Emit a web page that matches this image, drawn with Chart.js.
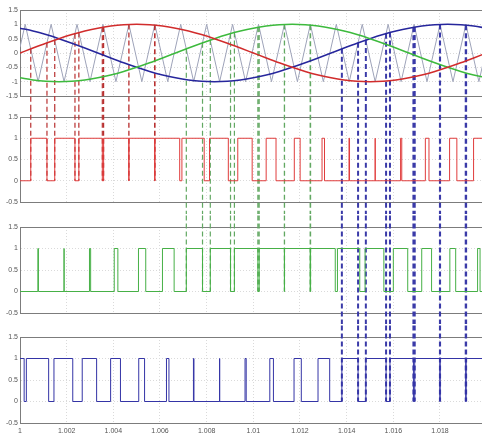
<!DOCTYPE html>
<html>
<head>
<meta charset="utf-8">
<script src="https://cdn.jsdelivr.net/npm/chart.js@4.4.1/dist/chart.umd.min.js"></script>
<style>
  html, body { margin: 0; padding: 0; background: #fff; }
  #wrap { position: relative; width: 482px; height: 434px; overflow: hidden; }
  canvas { position: absolute; left: 0; }
</style>
</head>
<body>
<div id="wrap">
  <canvas id="wave" width="482" height="107" style="top:0px"></canvas>
  <canvas id="pulseR" width="482" height="107" style="top:107px"></canvas>
  <canvas id="pulseG" width="482" height="110" style="top:214px"></canvas>
  <canvas id="pulseB" width="482" height="110" style="top:324px"></canvas>
</div>
<script>
// time axis (s)
const xMin = 1, xMax = 1.0198;
const xTicks = [1, 1.002, 1.004, 1.006, 1.008, 1.01, 1.012, 1.014, 1.016, 1.018];
const waveTicks = [-1.5, -1, -0.5, 0, 0.5, 1, 1.5];
const pulseTicks = [-0.5, 0, 0.5, 1, 1.5];

// reference sine waves
const sineT = [1, 1.000556, 1.001111, 1.001667, 1.002222, 1.002778, 1.003333, 1.003889, 1.004444, 1.005,
  1.005556, 1.006111, 1.006667, 1.007222, 1.007778, 1.008333, 1.008889, 1.009444, 1.01, 1.010556,
  1.011111, 1.011667, 1.012222, 1.012778, 1.013333, 1.013889, 1.014444, 1.015, 1.015556, 1.016111,
  1.016667, 1.017222, 1.017778, 1.018333, 1.018889, 1.019444, 1.02];
const redWave = [0, 0.174, 0.342, 0.5, 0.643, 0.766, 0.866, 0.94, 0.985, 1,
  0.985, 0.94, 0.866, 0.766, 0.643, 0.5, 0.342, 0.174, 0, -0.174,
  -0.342, -0.5, -0.643, -0.766, -0.866, -0.94, -0.985, -1, -0.985, -0.94,
  -0.866, -0.766, -0.643, -0.5, -0.342, -0.174, 0];
const greenWave = [-0.866, -0.94, -0.985, -1, -0.985, -0.94, -0.866, -0.766, -0.643, -0.5,
  -0.342, -0.174, 0, 0.174, 0.342, 0.5, 0.643, 0.766, 0.866, 0.94,
  0.985, 1, 0.985, 0.94, 0.866, 0.766, 0.643, 0.5, 0.342, 0.174,
  0, -0.174, -0.342, -0.5, -0.643, -0.766, -0.866];
const blueWave = [0.866, 0.766, 0.643, 0.5, 0.342, 0.174, 0, -0.174, -0.342, -0.5,
  -0.643, -0.766, -0.866, -0.94, -0.985, -1, -0.985, -0.94, -0.866, -0.766,
  -0.643, -0.5, -0.342, -0.174, 0, 0.174, 0.342, 0.5, 0.643, 0.766,
  0.866, 0.94, 0.985, 1, 0.985, 0.94, 0.866];

// triangular carrier (vertices)
const carrierT = [1, 1.000222, 1.000778, 1.001333, 1.001889, 1.002444, 1.003, 1.003556, 1.004111, 1.004667,
  1.005222, 1.005778, 1.006333, 1.006889, 1.007444, 1.008, 1.008556, 1.009111, 1.009667, 1.010222,
  1.010778, 1.011333, 1.011889, 1.012444, 1.013, 1.013556, 1.014111, 1.014667, 1.015222, 1.015778,
  1.016333, 1.016889, 1.017444, 1.018, 1.018556, 1.019111, 1.019667, 1.02];
const carrierV = [0.2, 1, -1, 1, -1, 1, -1, 1, -1, 1,
  -1, 1, -1, 1, -1, 1, -1, 1, -1, 1,
  -1, 1, -1, 1, -1, 1, -1, 1, -1, 1,
  -1, 1, -1, 1, -1, 1, -1, 0.2];

// switching instants of each PWM output
const redStart = 0;
const redEdges = [1.000461, 1.0011556, 1.0014889, 1.0023556, 1.0025222, 1.0035278, 1.0035833, 1.0046639, 1.0046694,
  1.0057694, 1.0057861, 1.0068444, 1.0069389, 1.0078944, 1.0081222, 1.0089278, 1.0093333, 1.00995, 1.01055,
  1.0109722, 1.0117556, 1.0120056, 1.0129444, 1.01305, 1.0141, 1.0141222, 1.0152217, 1.0152228, 1.0163111,
  1.0163611, 1.0173722, 1.0175278, 1.0184111, 1.0187222, 1.0194389, 1.0199389];
const greenStart = 0;
const greenEdges = [1.0007667, 1.0007889, 1.0018883, 1.0018894, 1.0029778, 1.0030278, 1.0040389, 1.0041944,
  1.0050778, 1.0053889, 1.0061056, 1.0066056, 1.0071278, 1.0078222, 1.0081556, 1.0090222, 1.0091889,
  1.0101944, 1.01025, 1.0113306, 1.0113361, 1.0124361, 1.0124528, 1.0135111, 1.0136056, 1.0145611,
  1.0147889, 1.0155944, 1.016, 1.0166167, 1.0172167, 1.0176389, 1.0184222, 1.0186722, 1.0196111, 1.0197167];
const blueStart = 1;
const blueEdges = [1.0001778, 1.0002722, 1.0012278, 1.0014556, 1.0022611, 1.0026667, 1.0032833, 1.0038833,
  1.0043056, 1.0050889, 1.0053389, 1.0062778, 1.0063833, 1.0074333, 1.0074556, 1.008555, 1.0085561,
  1.0096444, 1.0096944, 1.0107056, 1.0108611, 1.0117444, 1.0120556, 1.0127722, 1.0132722, 1.0137944,
  1.0144889, 1.0148222, 1.0156889, 1.0158556, 1.0168611, 1.0169167, 1.0179972, 1.0180028, 1.0191028, 1.0191194];

// dashed projection lines: crossing instant and sine value there
const redMarkT = [1.000461, 1.0011556, 1.0014889, 1.0023556, 1.0025222, 1.0035278, 1.0035833, 1.0046639, 1.0046694, 1.0057694, 1.0057861];
const greenMarkT = [1.0071278, 1.0078222, 1.0081556, 1.0090222, 1.0091889, 1.0101944, 1.01025, 1.0113306, 1.0113361, 1.0124361, 1.0124528];
const blueMarkT = [1.0137944, 1.0144889, 1.0148222, 1.0156889, 1.0158556, 1.0168611, 1.0169167, 1.0179972, 1.0180028, 1.0191028, 1.0191194];
const markV = [0.144, 0.355, 0.451, 0.674, 0.712, 0.895, 0.903, 0.994, 0.995, 0.971, 0.970];

const RED = '#d12c2c', GREEN = '#3dba3d', BLUE = '#26269c';
const RED_DASH = '#b83030', GREEN_DASH = '#62a862', BLUE_DASH = '#3a3aa8';

Chart.defaults.font.family = "'Liberation Sans', Arial, sans-serif";
Chart.defaults.font.size = 7;
Chart.defaults.color = '#555';

function pairs(xs, ys) {
  return xs.map((x, i) => ({ x: x, y: ys[i] }));
}

function steps(edges, start) {
  const pts = [{ x: xMin, y: start }];
  let lvl = start;
  edges.forEach(t => { lvl = 1 - lvl; pts.push({ x: t, y: lvl }); });
  pts.push({ x: 1.02, y: lvl });
  return pts;
}

// vertical drops; values far outside the axis run off the canvas edge
function drops(times, from, to) {
  const pts = [];
  times.forEach((t, i) => {
    const top = Array.isArray(from) ? from[i] : from;
    pts.push({ x: t, y: top }, { x: t, y: to }, { x: t, y: null });
  });
  return pts;
}

function dashSet(times, from, to, color, width) {
  return {
    data: drops(times, from, to), borderColor: color, borderWidth: width,
    borderDash: [5, 3], clip: false, spanGaps: false, order: 1
  };
}

function panel(id, yMin, yMax, yTicks, datasets, padding, showX) {
  new Chart(document.getElementById(id), {
    type: 'line',
    data: { datasets: datasets },
    options: {
      responsive: false,
      animation: false,
      events: [],
      layout: { padding: padding },
      plugins: { legend: { display: false }, tooltip: { enabled: false } },
      elements: { point: { radius: 0 }, line: { borderWidth: 1, tension: 0 } },
      scales: {
        x: {
          type: 'linear', min: xMin, max: xMax,
          afterBuildTicks: s => { s.ticks = xTicks.map(v => ({ value: v })); },
          afterFit: s => { s.height = showX ? 11 : 0; },
          ticks: { display: showX, maxRotation: 0, padding: 4, callback: v => String(+v.toFixed(3)) },
          grid: { color: '#dadada', drawTicks: false },
          border: { color: '#7c7c7c', dash: [1, 2] }
        },
        x2: {
          type: 'linear', position: 'top', min: xMin, max: xMax,
          afterFit: s => { s.height = 0; },
          ticks: { display: false },
          grid: { drawOnChartArea: false, drawTicks: false },
          border: { color: '#7c7c7c' }
        },
        y: {
          min: yMin, max: yMax,
          afterBuildTicks: s => { s.ticks = yTicks.map(v => ({ value: v })); },
          afterFit: s => { s.width = 20; },
          ticks: { padding: 2, callback: v => String(v) },
          grid: { color: '#dadada', drawTicks: false },
          border: { color: '#7c7c7c', dash: [1, 2] }
        }
      }
    }
  });
}

// top: modulating waves and carrier
panel('wave', -1.5, 1.5, waveTicks, [
  { data: pairs(sineT, redWave), borderColor: RED, borderWidth: 1.5, cubicInterpolationMode: 'monotone', order: 0 },
  { data: pairs(sineT, greenWave), borderColor: GREEN, borderWidth: 1.5, cubicInterpolationMode: 'monotone', order: 0 },
  { data: pairs(sineT, blueWave), borderColor: BLUE, borderWidth: 1.5, cubicInterpolationMode: 'monotone', order: 0 },
  dashSet(redMarkT, markV, -20, RED_DASH, 1.2),
  dashSet(greenMarkT, markV, -20, GREEN_DASH, 1.2),
  dashSet(blueMarkT, markV, -20, BLUE_DASH, 2),
  { data: pairs(carrierT, carrierV), borderColor: '#9ea3b9', borderWidth: 1, order: 2 }
], { top: 10, bottom: 11, left: 0, right: 0 }, false);

// phase outputs
panel('pulseR', -0.5, 1.5, pulseTicks, [
  { data: steps(redEdges, redStart), borderColor: '#e03c3c', stepped: 'before', order: 0 },
  dashSet(redMarkT, 20, 0, RED_DASH, 1.2),
  dashSet(greenMarkT, 20, -20, GREEN_DASH, 1.2),
  dashSet(blueMarkT, 20, -20, BLUE_DASH, 2)
], { top: 10, bottom: 12, left: 0, right: 0 }, false);

panel('pulseG', -0.5, 1.5, pulseTicks, [
  { data: steps(greenEdges, greenStart), borderColor: '#46b046', stepped: 'before', order: 0 },
  dashSet(greenMarkT, 20, 0, GREEN_DASH, 1.2),
  dashSet(blueMarkT, 20, -20, BLUE_DASH, 2)
], { top: 13, bottom: 11, left: 0, right: 0 }, false);

panel('pulseB', -0.5, 1.5, pulseTicks, [
  { data: steps(blueEdges, blueStart), borderColor: '#3434a6', stepped: 'before', order: 0 },
  dashSet(blueMarkT, 20, 0, BLUE_DASH, 2)
], { top: 13, bottom: 0, left: 0, right: 0 }, true);
</script>
</body>
</html>
